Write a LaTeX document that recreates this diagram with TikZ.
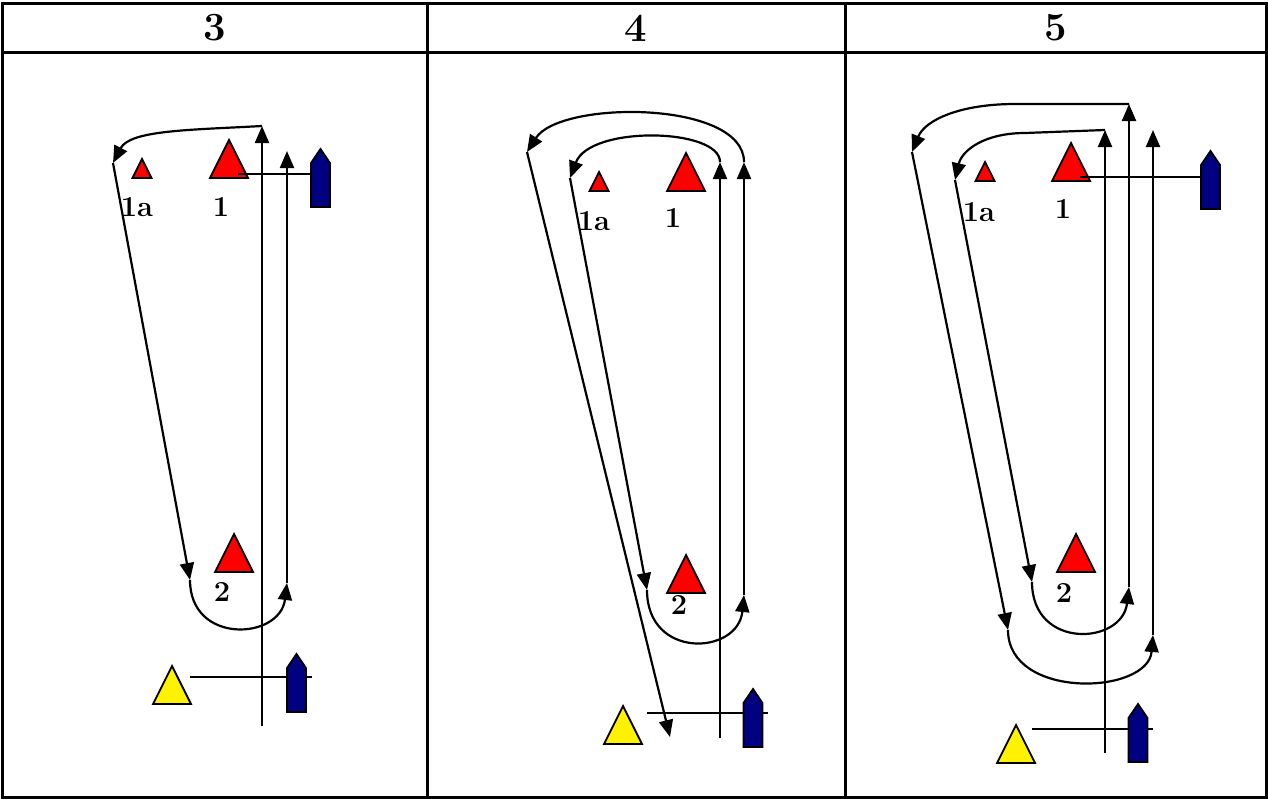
\documentclass[tikz,border=0pt]{standalone}
\usepackage{fontspec}
\usetikzlibrary{positioning}
\usetikzlibrary{arrows.meta}
\usetikzlibrary{calc}
\definecolor{boatblue}{RGB}{0,0,128}
\tikzset{
  route/.style={draw,line width=2.2pt,-{Triangle[length=17pt,width=14pt]}},
  plain/.style={draw,line width=2.2pt},
  buoy/.style={draw,line width=1.8pt},
  boatbox/.style={draw,line width=1.8pt,fill=boatblue},
  numlabel/.style={inner sep=0pt,font=\fontsize{29}{31}\selectfont\bfseries},
  headlabel/.style={inner sep=0pt,font=\fontsize{40}{42}\selectfont\bfseries},
  frame/.style={draw,line width=3pt}
}
% #1 base centre, #2 half width, #3 colour
\newcommand{\buoyat}[3]{\draw[buoy,fill=#3] ($(#1)+(-#2,0)$) -- ($(#1)+(#2,0)$) -- ($(#1)+(0,-2*#2)$) -- cycle;}
% #1 bottom centre
\newcommand{\boatat}[1]{\draw[boatbox] (#1) ++(-9.5,0) -- ++(0,-44) -- ++(9.5,-14) -- ++(9.5,14) -- ++(0,44) -- cycle;}
\begin{document}
\begin{tikzpicture}[x=1pt,y=-1pt]
  \useasboundingbox (0,0) rectangle (1268,798);

  % table
  \draw[frame] (2,3) rectangle (1266,797);
  \draw[frame] (2,52) -- (1266,52);
  \draw[frame] (427,3) -- (427,797);
  \draw[frame] (845,3) -- (845,797);
  \node (h3) [headlabel] at (214.5,28) {3};
  \node (h4) [headlabel] at (636,28)   {4};
  \node (h5) [headlabel] at (1055.5,28) {5};

  % ---------------- 3 ----------------
  \coordinate (b3-1a) at (142,178);
  \coordinate (b3-1)  at (229,178);
  \coordinate (b3-2)  at (234,572);
  \coordinate (b3-y)  at (172,704);
  \coordinate (s3-top) at (320.5,207);
  \coordinate (s3-bot) at (296.5,712);
  \coordinate (m3-top) at (238,174);
  \coordinate (m3-bot) at (190,677);
  \coordinate (e3-bot) at (312,677);
  \coordinate (p3-low)  at (262,726);
  \coordinate (p3-high) at (262,126);
  \coordinate (p3-1a)   at (113,163);
  \coordinate (p3-in)   at (190,580);
  \coordinate (p3-out)  at (287,583);
  \coordinate (p3-top)  at (287,151);

  \buoyat{b3-1a}{9.5}{red}
  \buoyat{b3-1}{19}{red}
  \buoyat{b3-2}{19}{red}
  \buoyat{b3-y}{19}{yellow}
  \draw[plain] (m3-top) -- (m3-top -| s3-top);
  \draw[plain] (m3-bot) -- (e3-bot);
  \boatat{s3-top}
  \boatat{s3-bot}

  \node (l3-1a) [numlabel] at (137,207) {1a};
  \node (l3-1)  [numlabel] at (221,207) {1};
  \node (l3-2)  [numlabel] at (222,592) {2};

  \draw[route] (p3-low) -- (p3-high);
  \draw[route] (p3-high) .. controls (190,130) and (130,130) .. (p3-1a);
  \draw[route] (p3-1a) -- (p3-in);
  \draw[route] (p3-in) .. controls (190,645) and (280,640) .. (p3-out);
  \draw[route] (p3-out) -- (p3-top);

  % ---------------- 4 ----------------
  \coordinate (b4-1a) at (599,191);
  \coordinate (b4-1)  at (686,191);
  \coordinate (b4-2)  at (686,593);
  \coordinate (b4-y)  at (623,744);
  \coordinate (s4-bot) at (753,747);
  \coordinate (m4-bot) at (647,713);
  \coordinate (e4-bot) at (768,713);
  \coordinate (p4-low)   at (720,738);
  \coordinate (p4-inhi)  at (720,162);
  \coordinate (p4-outhi) at (744,162);
  \coordinate (p4-in1a)  at (570,178);
  \coordinate (p4-out1a) at (527,152);
  \coordinate (p4-in)    at (647,590);
  \coordinate (p4-out)   at (744,595);
  \coordinate (p4-end)   at (670,737);

  \buoyat{b4-1a}{9.5}{red}
  \buoyat{b4-1}{19}{red}
  \buoyat{b4-2}{19}{red}
  \buoyat{b4-y}{19}{yellow}
  \draw[plain] (m4-bot) -- (e4-bot);
  \boatat{s4-bot}

  \node (l4-1a) [numlabel] at (594,221) {1a};
  \node (l4-1)  [numlabel] at (673,218) {1};
  \node (l4-2)  [numlabel] at (679,605) {2};

  \draw[route] (p4-low) -- (p4-inhi);
  \draw[route] (p4-inhi) .. controls (720,128) and (590,125) .. (p4-in1a);
  \draw[route] (p4-in1a) -- (p4-in);
  \draw[route] (p4-in) .. controls (647,660) and (738,655) .. (p4-out);
  \draw[route] (p4-out) -- (p4-outhi);
  \draw[route] (p4-outhi) .. controls (744,100) and (560,100) .. (p4-out1a);
  \draw[route] (p4-out1a) -- (p4-end);

  % ---------------- 5 ----------------
  \coordinate (b5-1a) at (985,181);
  \coordinate (b5-1)  at (1071,181);
  \coordinate (b5-2)  at (1076,572);
  \coordinate (b5-y)  at (1016,763);
  \coordinate (s5-top) at (1210.5,209);
  \coordinate (s5-bot) at (1138,762);
  \coordinate (m5-top) at (1080,177);
  \coordinate (m5-bot) at (1032,729);
  \coordinate (e5-bot) at (1153,729);
  \coordinate (p5-low)   at (1105,753);
  \coordinate (p5-inhi)  at (1105,130);
  \coordinate (p5-inflat) at (1025,133);
  \coordinate (p5-in1a)  at (955,180);
  \coordinate (p5-in)    at (1032,582);
  \coordinate (p5-midlo) at (1129,587);
  \coordinate (p5-midhi) at (1129,104);
  \coordinate (p5-outflat) at (1015,104);
  \coordinate (p5-out1a) at (912,152);
  \coordinate (p5-out)   at (1008,630);
  \coordinate (p5-rlo)   at (1153,635);
  \coordinate (p5-rhi)   at (1153,130);

  \buoyat{b5-1a}{9.5}{red}
  \buoyat{b5-1}{19}{red}
  \buoyat{b5-2}{19}{red}
  \buoyat{b5-y}{19}{yellow}
  \draw[plain] (m5-top) -- (m5-top -| s5-top);
  \draw[plain] (m5-bot) -- (e5-bot);
  \boatat{s5-top}
  \boatat{s5-bot}

  \node (l5-1a) [numlabel] at (979,212) {1a};
  \node (l5-1)  [numlabel] at (1063,209) {1};
  \node (l5-2)  [numlabel] at (1064,593) {2};

  \draw[route] (p5-low) -- (p5-inhi);
  \draw[route] (p5-inhi) -- (p5-inflat) .. controls (985,133) and (962,150) .. (p5-in1a);
  \draw[route] (p5-in1a) -- (p5-in);
  \draw[route] (p5-in) .. controls (1032,650) and (1122,645) .. (p5-midlo);
  \draw[route] (p5-midlo) -- (p5-midhi);
  \draw[route] (p5-midhi) -- (p5-outflat) .. controls (960,104) and (925,120) .. (p5-out1a);
  \draw[route] (p5-out1a) -- (p5-out);
  \draw[route] (p5-out) .. controls (1008,700) and (1148,695) .. (p5-rlo);
  \draw[route] (p5-rlo) -- (p5-rhi);
\end{tikzpicture}
\end{document}
